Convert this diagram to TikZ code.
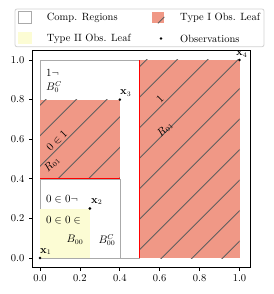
\documentclass[tikz,border=0pt]{standalone}
\definecolor{typeI}{RGB}{240,152,134}
\definecolor{typeII}{RGB}{252,252,212}
\definecolor{compedge}{RGB}{170,170,170}
\definecolor{hatchc}{RGB}{95,95,95}
\definecolor{legedge}{RGB}{210,210,210}
\begin{document}
\begin{tikzpicture}[x=1pt,y=-1pt,
  font=\fontsize{10.5}{12}\selectfont,
  txt/.style={inner sep=0pt},
  comp/.style={draw=compedge, fill=white, line width=0.6pt},
  hatchline/.style={draw=hatchc, line width=0.8pt},
  split/.style={draw=red, line width=0.8pt},
  tick/.style={line width=0.8pt},
  obs/.style={fill=black}]
\useasboundingbox (0,0) rectangle (273,294);
% legend
\draw[legedge, fill=white, rounded corners=2pt, line width=0.8pt] (15,9) rectangle (264,46.7);
\draw[comp] (18,11.7) rectangle (31.7,23.3);
\node[txt, anchor=west] (lgc) at (46.7,17.5) {Comp. Regions};
\fill[typeI] (151.7,11.7) rectangle (164.3,23.3);
\draw[hatchline] (158,23.3) -- (164.3,17);
\node[txt, anchor=west] (lgt1) at (180,17.5) {Type I Obs. Leaf};
\fill[typeII] (18,32.3) rectangle (31.7,44.3);
\node[txt, anchor=west] (lgt2) at (46.7,38.8) {Type II Obs. Leaf};
\fill (161,38.5) circle (1.4);
\node[txt, anchor=west] (lgo) at (180,38.8) {Observations};
% regions
\begin{scope}[shift={(40,258)}, x=199.5pt, y=198pt]
  \draw[comp] (0,0) rectangle (0.5,1);
  \draw[comp] (0,0) rectangle (0.4,0.4);
  \fill[typeII] (0,0) rectangle (0.25,0.25);
  \fill[typeI] (0,0.4) rectangle (0.4,0.8);
  \fill[typeI] (0.5,0) rectangle (1,1);
  \coordinate (A1) at (0,0.4);
  \coordinate (A2) at (0.4,0.8);
  \coordinate (B1) at (0.5,0);
  \coordinate (B2) at (1,1);
  \coordinate (p1) at (0,0);
  \coordinate (p2) at (0.25,0.25);
  \coordinate (p3) at (0.4,0.8);
  \coordinate (p4) at (1,1);
  \coordinate (s1) at (0,0.4);
  \coordinate (s2) at (0.4,0.4);
  \coordinate (s3) at (0.5,0);
  \coordinate (s4) at (0.5,1);
\end{scope}
\begin{scope}
  \clip (A1) rectangle (A2);
  \foreach \k in {-3,...,11}{
    \pgfmathsetmacro{\c}{419.7-30.5*\k}
    \draw[hatchline] (\c,0) -- (\c-300,300);
  }
\end{scope}
\begin{scope}
  \clip (B1) rectangle (B2);
  \foreach \k in {-3,...,11}{
    \pgfmathsetmacro{\c}{419.7-30.5*\k}
    \draw[hatchline] (\c,0) -- (\c-300,300);
  }
\end{scope}
\draw[split] (s1) -- (s2);
\draw[split] (s3) -- (s4);
% region labels
\node[txt, anchor=west] (l1) at (46,73) {$1\neg$};
\node[txt, anchor=west] (l2) at (46,87) {$B_0^C$};
\node[txt, rotate=45] (l3) at (57,141) {$0\in 1$};
\node[txt, rotate=45] (l4) at (52,164) {$R_{01}$};
\node[txt, rotate=45] (l5) at (160,99) {$1$};
\node[txt, rotate=45] (l6) at (165,129) {$R_{01}$};
\node[txt, anchor=west] (l7) at (46,199) {$0\in 0\neg$};
\node[txt, anchor=west] (l8) at (46,220) {$0\in 0\in$};
\node[txt] (l9) at (75,240) {$B_{00}$};
\node[txt] (l10) at (107,240) {$B_{00}^C$};
% observations
\fill[obs] (p1) circle (1.4);
\fill[obs] (p2) circle (1.4);
\fill[obs] (p3) circle (1.4);
\fill[obs] (p4) circle (1.4);
\node[txt, anchor=base west] (x1) at (40,253) {$\mathbf{x}_1$};
\node[txt, anchor=base west] (x2) at (91,203) {$\mathbf{x}_2$};
\node[txt, anchor=base west] (x3) at (120,95) {$\mathbf{x}_3$};
\node[txt, anchor=base west] (x4) at (236,56) {$\mathbf{x}_4$};
% axes frame
\draw[line width=0.9pt] (32,50) rectangle (250,267);
\foreach \v/\t in {0/0.0,1/0.2,2/0.4,3/0.6,4/0.8,5/1.0}{
  \pgfmathsetmacro{\px}{40+39.9*\v}
  \pgfmathsetmacro{\py}{258-39.6*\v}
  \draw[tick] (\px,267) -- (\px,270.5);
  \node[txt, anchor=north] at (\px,274) {\t};
  \draw[tick] (32,\py) -- (28.5,\py);
  \node[txt, anchor=east] at (24.5,\py) {\t};
}
\end{tikzpicture}
\end{document}
